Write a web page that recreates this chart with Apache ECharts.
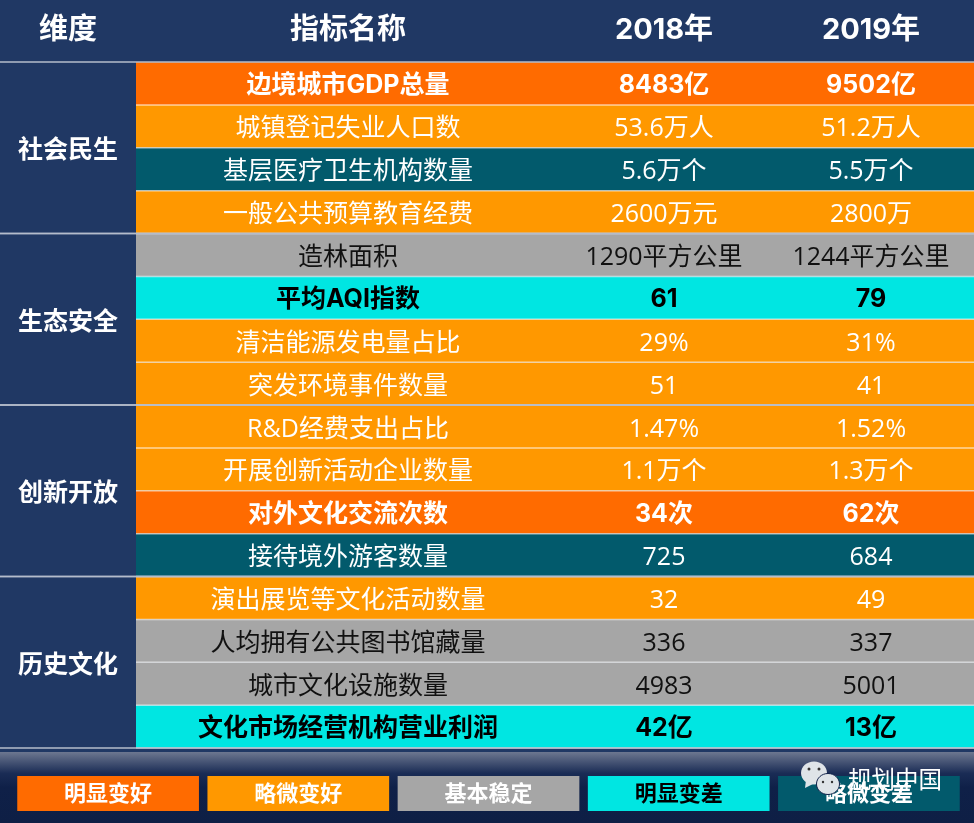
<!DOCTYPE html>
<html lang="zh">
<head>
<meta charset="UTF-8">
<title>指标表</title>
<script src="https://cdn.jsdelivr.net/npm/echarts@6/dist/echarts.min.js"></script>
<style>html,body{margin:0;padding:0;background:#203864}#main{width:974px;height:823px}</style>
</head>
<body>
<div id="main"></div>
<script>
var headers = ['维度', '指标名称', '2018年', '2019年'];
var dimensions = ['社会民生', '生态安全', '创新开放', '历史文化'];
var dimensionRows = [4, 4, 4, 4];
var indicators = ['边境城市GDP总量', '城镇登记失业人口数', '基层医疗卫生机构数量', '一般公共预算教育经费',
    '造林面积', '平均AQI指数', '清洁能源发电量占比', '突发环境事件数量',
    'R&D经费支出占比', '开展创新活动企业数量', '对外文化交流次数', '接待境外游客数量',
    '演出展览等文化活动数量', '人均拥有公共图书馆藏量', '城市文化设施数量', '文化市场经营机构营业利润'];
var values2018 = ['8483亿', '53.6万人', '5.6万个', '2600万元', '1290平方公里', '61', '29%', '51',
    '1.47%', '1.1万个', '34次', '725', '32', '336', '4983', '42亿'];
var values2019 = ['9502亿', '51.2万人', '5.5万个', '2800万', '1244平方公里', '79', '31%', '41',
    '1.52%', '1.3万个', '62次', '684', '49', '337', '5001', '13亿'];
// index into statusNames for each row
var rowStatus = [0, 1, 4, 1, 2, 3, 1, 1, 1, 1, 0, 4, 1, 2, 2, 3];
var statusNames = ['明显变好', '略微变好', '基本稳定', '明显变差', '略微变差'];

var statusFill = ['#ff6b00', '#ff9800', '#a6a6a6', '#00e6e2', '#025a6c'];
var statusText = ['#fff', '#fff', '#111', '#000', '#fff'];
var statusLegendText = ['#fff', '#fff', '#fff', '#000', '#fff'];
var statusBold = [true, false, false, true, false];
var columnEdges = [0, 136, 560, 768, 974];
var FAMILY = '"Open Sans","Noto Sans CJK SC",sans-serif';
var FAMILY_BOLD = 'Inter,"Noto Sans CJK SC",sans-serif';

var myChart = echarts.init(document.getElementById('main'), null, { renderer: 'canvas' });

function textEl(text, x, y, size, bold, fill) {
    return {
        type: 'text',
        z2: 5,
        style: {
            text: text, x: x, y: y, fill: fill,
            font: bold ? 'bold ' + size + 'px ' + FAMILY_BOLD : size + 'px ' + FAMILY,
            textAlign: 'center', textVerticalAlign: 'middle'
        }
    };
}

function renderHeader(params, api) {
    var i = params.dataIndex;
    var l = api.coord([columnEdges[i], 0]);
    var r = api.coord([columnEdges[i + 1], 1]);
    return textEl(headers[i], (l[0] + r[0]) / 2, (l[1] + r[1]) / 2 - 1, 29, true, '#fff');
}

function renderRow(params, api) {
    var i = params.dataIndex;
    var s = rowStatus[i];
    var a = api.coord([columnEdges[1], i]);
    var b = api.coord([columnEdges[4], i + 1]);
    var bold = statusBold[s];
    var midY = (a[1] + b[1]) / 2 + (bold ? 2 : 3);
    var fill = statusText[s];
    var children = [{
        type: 'rect',
        shape: { x: a[0], y: a[1], width: b[0] - a[0], height: b[1] - a[1] },
        style: { fill: statusFill[s] }
    }, {
        type: 'line',
        z2: 3,
        shape: { x1: a[0], y1: b[1], x2: b[0], y2: b[1] },
        style: { stroke: 'rgba(255,255,255,0.62)', lineWidth: 1.5 }
    }];
    [indicators[i], values2018[i], values2019[i]].forEach(function (t, c) {
        var cx = (api.coord([columnEdges[c + 1], 0])[0] + api.coord([columnEdges[c + 2], 0])[0]) / 2;
        children.push(textEl(t, cx, midY, 25, bold, fill));
    });
    return { type: 'group', children: children };
}

function renderDimension(params, api) {
    var i = params.dataIndex;
    var start = 0;
    for (var k = 0; k < i; k++) start += dimensionRows[k];
    var a = api.coord([columnEdges[0], start]);
    var b = api.coord([columnEdges[1], start + dimensionRows[i]]);
    var full = api.coord([columnEdges[4], start + dimensionRows[i]]);
    return {
        type: 'group',
        children: [{
            type: 'rect',
            shape: { x: a[0], y: a[1], width: b[0] - a[0], height: b[1] - a[1] },
            style: { fill: '#203864' }
        }, {
            type: 'line',
            z2: 4,
            shape: { x1: a[0], y1: a[1], x2: full[0], y2: a[1] },
            style: { stroke: '#b4bccb', lineWidth: 1.5 }
        }, {
            type: 'line',
            z2: 4,
            shape: { x1: a[0], y1: b[1], x2: full[0], y2: b[1] },
            style: { stroke: '#b4bccb', lineWidth: 1.5 }
        }, textEl(dimensions[i], (a[0] + b[0]) / 2, (a[1] + b[1]) / 2 + 3, 25, true, '#fff')]
    };
}

function renderLegend(params, api) {
    var i = params.dataIndex;
    var c = api.coord([i, 0]);
    var w = api.size([1, 0])[0] - 8.5;
    var h = api.coord([i, 0])[1] - api.coord([i, 1])[1];
    var top = c[1] - h;
    return {
        type: 'group',
        children: [{
            type: 'rect',
            shape: { x: c[0] - w / 2, y: top, width: w, height: h },
            style: { fill: statusFill[i] }
        }, textEl(statusNames[i], c[0], top + h / 2 + 1, 22, true, statusLegendText[i])]
    };
}

function hiddenX(grid) {
    return { type: 'value', gridIndex: grid, min: 0, max: 974, show: false };
}

var markFill = '#dfe4e8';
var markDot = '#333';
function mark(el) {
    el.z = 100;
    el.zlevel = 1;
    return el;
}

myChart.setOption({
    animation: false,
    backgroundColor: '#203864',
    grid: [
        { left: 0, top: 0, width: 974, height: 62 },
        { left: 0, top: 62, width: 974, height: 686 },
        { left: 13, top: 776, width: 951, height: 35 }
    ],
    xAxis: [
        hiddenX(0),
        hiddenX(1),
        { type: 'category', gridIndex: 2, data: statusNames, show: false }
    ],
    yAxis: [
        { type: 'value', gridIndex: 0, min: 0, max: 1, show: false },
        { type: 'value', gridIndex: 1, min: 0, max: indicators.length, inverse: true, show: false },
        { type: 'value', gridIndex: 2, min: 0, max: 1, show: false }
    ],
    graphic: [{
        type: 'rect', z: 0,
        shape: { x: 0, y: 752, width: 974, height: 71 },
        style: {
            fill: new echarts.graphic.LinearGradient(0, 0, 0, 1, [
                { offset: 0, color: '#6d7790' },
                { offset: 0.3, color: '#1a2c55' },
                { offset: 0.5, color: '#0f2048' },
                { offset: 1, color: '#0e1f45' }
            ])
        }
    },
    mark({ type: 'ellipse', shape: { cx: 814, cy: 773, rx: 13, ry: 11.5 }, style: { fill: markFill } }),
    mark({ type: 'polygon', shape: { points: [[806, 780], [805, 788], [813, 784]] }, style: { fill: markFill } }),
    mark({ type: 'circle', shape: { cx: 809, cy: 769, r: 1.5 }, style: { fill: markDot } }),
    mark({ type: 'circle', shape: { cx: 819, cy: 769, r: 1.5 }, style: { fill: markDot } }),
    mark({ type: 'ellipse', shape: { cx: 828, cy: 784, rx: 11.5, ry: 10.5 }, style: { fill: markFill, stroke: '#0f2048', lineWidth: 1 } }),
    mark({ type: 'circle', shape: { cx: 823, cy: 782, r: 1.2 }, style: { fill: markDot } }),
    mark({ type: 'circle', shape: { cx: 832, cy: 782, r: 1.2 }, style: { fill: markDot } }),
    mark({
        type: 'text',
        style: {
            text: '规划中国', x: 895, y: 779, fill: '#fff',
            font: '23.5px "Noto Sans CJK SC",sans-serif',
            textAlign: 'center', textVerticalAlign: 'middle',
            shadowColor: 'rgba(0,0,0,0.7)', shadowBlur: 2, shadowOffsetX: 1, shadowOffsetY: 1
        }
    })],
    series: [{
        type: 'custom', xAxisIndex: 0, yAxisIndex: 0, silent: true,
        data: headers.map(function (h, i) { return [i]; }),
        renderItem: renderHeader
    }, {
        type: 'custom', xAxisIndex: 1, yAxisIndex: 1, silent: true,
        data: indicators.map(function (n, i) { return [i]; }),
        renderItem: renderRow, z: 2
    }, {
        type: 'custom', xAxisIndex: 1, yAxisIndex: 1, silent: true,
        data: dimensions.map(function (n, i) { return [i]; }),
        renderItem: renderDimension, z: 3
    }, {
        type: 'custom', xAxisIndex: 2, yAxisIndex: 2, silent: true,
        data: statusNames.map(function (n, i) { return [i, 0]; }),
        renderItem: renderLegend
    }]
});
</script>
</body>
</html>
